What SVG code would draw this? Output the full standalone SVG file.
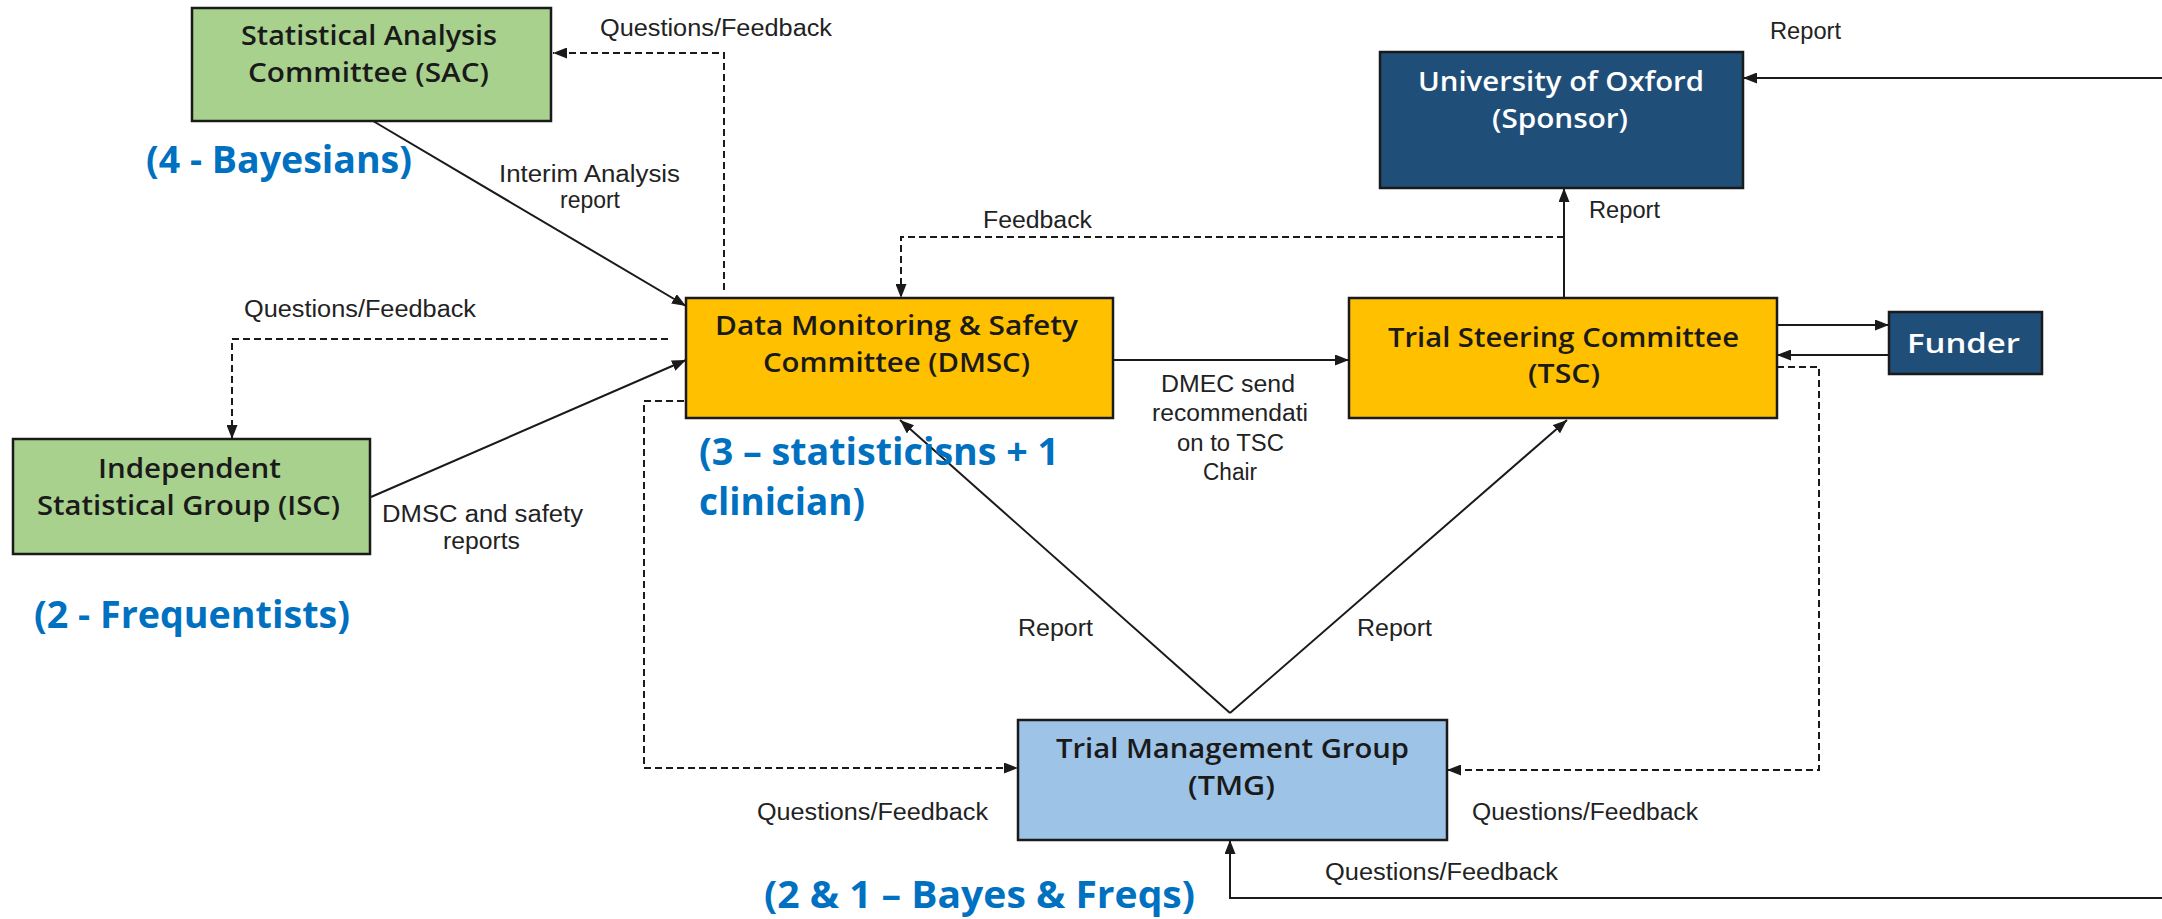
<svg xmlns="http://www.w3.org/2000/svg" width="2162" height="919" viewBox="0 0 2162 919">
  <style>
    .box { stroke: #1a1a1a; stroke-width: 2.5; }
    .green { fill: #A9D18E; }
    .amber { fill: #FFC000; }
    .navy { fill: #1F4E79; }
    .sky { fill: #9DC3E6; }
    .nt { font-family: "Open Sans", "Noto Sans", sans-serif; font-weight: 600; font-size: 27px; fill: #1a1a1a; }
    .wt { fill: #ffffff; }
    .lb { font-family: "Liberation Sans", Arial, sans-serif; font-size: 23px; fill: #222222; }
    .an { font-family: "Open Sans", "Noto Sans", sans-serif; font-weight: 700; font-size: 38px; fill: #0070C0; }
    .ln { stroke: #1a1a1a; stroke-width: 2; fill: none; marker-end: url(#ah); }
    .dsh { stroke-dasharray: 7 4; }
  </style>
  <defs>
    <marker id="ah" markerUnits="userSpaceOnUse" markerWidth="14" markerHeight="11" refX="14" refY="5.5" orient="auto">
      <path d="M0,0 L14,5.5 L0,11 z" fill="#1a1a1a"/>
    </marker>
  </defs>
  <rect width="2162" height="919" fill="#ffffff"/>

  <!-- connectors -->
  <g id="connectors">
    <!-- SAC -> DMSC : interim analysis report -->
    <line class="ln" x1="373" y1="121" x2="686" y2="306"/>
    <!-- DMSC -> SAC : questions/feedback -->
    <polyline class="ln dsh" points="724,290 724,53 553,53"/>
    <!-- DMSC -> ISC : questions/feedback -->
    <polyline class="ln dsh" points="668,339 232,339 232,439"/>
    <!-- ISC -> DMSC : reports -->
    <line class="ln" x1="371" y1="497" x2="686" y2="360"/>
    <!-- DMSC -> TSC : recommendation -->
    <line class="ln" x1="1113" y1="360" x2="1349" y2="360"/>
    <!-- DMSC -> TMG : questions/feedback -->
    <polyline class="ln dsh" points="684,401 644,401 644,768 1018,768"/>
    <!-- TSC -> TMG : questions/feedback -->
    <polyline class="ln dsh" points="1777,367 1819,367 1819,770 1447,770"/>
    <!-- TMG -> DMSC / TSC : reports -->
    <line class="ln" x1="1230" y1="713" x2="900" y2="420"/>
    <line class="ln" x1="1230" y1="713" x2="1567" y2="420"/>
    <!-- TSC -> Sponsor : report -->
    <line class="ln" x1="1564" y1="298" x2="1564" y2="188"/>
    <!-- TSC -> DMSC : feedback -->
    <polyline class="ln dsh" points="1564,237 901,237 901,298"/>
    <!-- incoming report to Sponsor -->
    <line class="ln" x1="2162" y1="78" x2="1743" y2="78"/>
    <!-- TSC <-> Funder -->
    <line class="ln" x1="1777" y1="325" x2="1889" y2="325"/>
    <line class="ln" x1="1889" y1="355" x2="1777" y2="355"/>
    <!-- incoming questions/feedback to TMG -->
    <polyline class="ln" points="2162,898 1230,898 1230,840"/>
  </g>

  <!-- connector labels -->
  <g id="labels">
    <text class="lb" x="600" y="36" textLength="232" lengthAdjust="spacingAndGlyphs">Questions/Feedback</text>
    <text class="lb" x="499" y="182" textLength="181" lengthAdjust="spacingAndGlyphs">Interim Analysis</text>
    <text class="lb" x="560" y="208" textLength="60" lengthAdjust="spacingAndGlyphs">report</text>
    <text class="lb" x="983" y="228" textLength="109" lengthAdjust="spacingAndGlyphs">Feedback</text>
    <text class="lb" x="244" y="317" textLength="232" lengthAdjust="spacingAndGlyphs">Questions/Feedback</text>
    <text class="lb" x="382" y="522" textLength="201" lengthAdjust="spacingAndGlyphs">DMSC and safety</text>
    <text class="lb" x="443" y="549" textLength="77" lengthAdjust="spacingAndGlyphs">reports</text>
    <text class="lb" x="1161" y="392" textLength="134" lengthAdjust="spacingAndGlyphs">DMEC send</text>
    <text class="lb" x="1152" y="421" textLength="156" lengthAdjust="spacingAndGlyphs">recommendati</text>
    <text class="lb" x="1177" y="451" textLength="107" lengthAdjust="spacingAndGlyphs">on to TSC</text>
    <text class="lb" x="1203" y="480" textLength="54" lengthAdjust="spacingAndGlyphs">Chair</text>
    <text class="lb" x="1770" y="39" textLength="71" lengthAdjust="spacingAndGlyphs">Report</text>
    <text class="lb" x="1589" y="218" textLength="71" lengthAdjust="spacingAndGlyphs">Report</text>
    <text class="lb" x="1018" y="636" textLength="75" lengthAdjust="spacingAndGlyphs">Report</text>
    <text class="lb" x="1357" y="636" textLength="75" lengthAdjust="spacingAndGlyphs">Report</text>
    <text class="lb" x="757" y="820" textLength="231" lengthAdjust="spacingAndGlyphs">Questions/Feedback</text>
    <text class="lb" x="1472" y="820" textLength="226" lengthAdjust="spacingAndGlyphs">Questions/Feedback</text>
    <text class="lb" x="1325" y="880" textLength="233" lengthAdjust="spacingAndGlyphs">Questions/Feedback</text>
  </g>

  <!-- nodes -->
  <g id="sac">
    <rect class="box green" x="192" y="8" width="359" height="113"/>
    <text class="nt" x="241" y="45" textLength="256" lengthAdjust="spacingAndGlyphs">Statistical Analysis</text>
    <text class="nt" x="248" y="82" textLength="241" lengthAdjust="spacingAndGlyphs">Committee (SAC)</text>
  </g>
  <g id="isc">
    <rect class="box green" x="13" y="439" width="357" height="115"/>
    <text class="nt" x="98" y="478" textLength="183" lengthAdjust="spacingAndGlyphs">Independent</text>
    <text class="nt" x="37" y="515" textLength="303" lengthAdjust="spacingAndGlyphs">Statistical Group (ISC)</text>
  </g>
  <g id="dmsc">
    <rect class="box amber" x="686" y="298" width="427" height="120"/>
    <text class="nt" x="715" y="335" textLength="363" lengthAdjust="spacingAndGlyphs">Data Monitoring &amp; Safety</text>
    <text class="nt" x="763" y="372" textLength="267" lengthAdjust="spacingAndGlyphs">Committee (DMSC)</text>
  </g>
  <g id="tsc">
    <rect class="box amber" x="1349" y="298" width="428" height="120"/>
    <text class="nt" x="1388" y="347" textLength="351" lengthAdjust="spacingAndGlyphs">Trial Steering Committee</text>
    <text class="nt" x="1528" y="383" textLength="72" lengthAdjust="spacingAndGlyphs">(TSC)</text>
  </g>
  <g id="sponsor">
    <rect class="box navy" x="1380" y="52" width="363" height="136"/>
    <text class="nt wt" x="1418" y="91" textLength="286" lengthAdjust="spacingAndGlyphs">University of Oxford</text>
    <text class="nt wt" x="1492" y="128" textLength="136" lengthAdjust="spacingAndGlyphs">(Sponsor)</text>
  </g>
  <g id="funder">
    <rect class="box navy" x="1889" y="312" width="153" height="62"/>
    <text class="nt wt" x="1907" y="353" font-size="32" font-weight="700" textLength="113" lengthAdjust="spacingAndGlyphs">Funder</text>
  </g>
  <g id="tmg">
    <rect class="box sky" x="1018" y="720" width="429" height="120"/>
    <text class="nt" x="1056" y="758" textLength="353" lengthAdjust="spacingAndGlyphs">Trial Management Group</text>
    <text class="nt" x="1188" y="795" textLength="87" lengthAdjust="spacingAndGlyphs">(TMG)</text>
  </g>

  <!-- membership notes -->
  <g id="notes">
    <text class="an" x="146" y="173" textLength="266" lengthAdjust="spacingAndGlyphs">(4 - Bayesians)</text>
    <text class="an" x="34" y="628" textLength="316" lengthAdjust="spacingAndGlyphs">(2 - Frequentists)</text>
    <text class="an" x="699" y="465" textLength="360" lengthAdjust="spacingAndGlyphs">(3 – statisticisns + 1</text>
    <text class="an" x="699" y="515" textLength="166" lengthAdjust="spacingAndGlyphs">clinician)</text>
    <text class="an" x="764" y="908" textLength="431" lengthAdjust="spacingAndGlyphs">(2 &amp; 1 – Bayes &amp; Freqs)</text>
  </g>
</svg>
